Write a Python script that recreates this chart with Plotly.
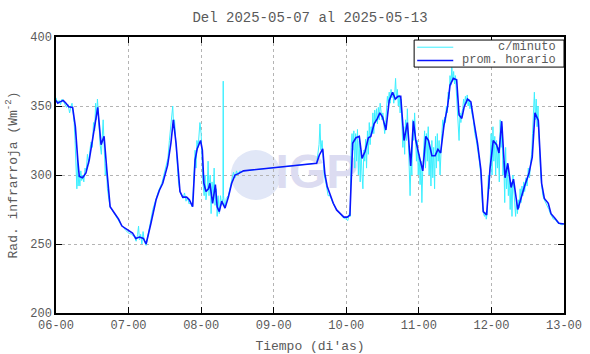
import pandas as pd
import plotly.graph_objects as go

# ---------------- data (hours since 2025-05-06 00:00, W m-2) ----------------
hourly_hours = [0, 0.6, 1.3, 2.4, 3.3, 4.2, 5.5, 6.4, 7.2, 7.7, 8.8, 9.9, 11, 11.9, 12.7, 13.8,
                14.9, 15.9, 16.8, 17.9, 19.3, 20.7, 21.8, 23.7, 25.3, 26.4, 27.6, 28.9, 29.8,
                31.4, 33.1, 34.2, 35.3, 36.9, 38, 38.8, 39.7, 41, 41.9, 43.2, 44.1, 45.2, 46,
                46.7, 47.8, 48.4, 48.9, 49.6, 50.4, 50.9, 51.8, 52.7, 53.3, 54, 54.8, 55.9, 57,
                58.1, 59.2, 60.3, 62, 86.2, 87.1, 88.2, 88.9, 89.7, 90.6, 91.7, 92.8, 94.1,
                95.2, 96.3, 97.2, 98.1, 99.2, 100.3, 101.2, 102.2, 103.3, 104.1, 105.2, 106.3,
                107.1, 108, 109.1, 110.2, 111.3, 112.2, 113.1, 114, 115.1, 116.2, 117.3, 118.2,
                119, 120.2, 121.3, 122.3, 123.2, 124.3, 125.4, 126.3, 127.2, 128.3, 129.5,
                130.3, 131.4, 132.5, 133.3, 134.2, 135, 136.1, 137.2, 138.3, 139.4, 140.5,
                141.3, 142.4, 143.5, 144.6, 145.7, 146.5, 147.4, 148.5, 149.4, 150.5, 151.3,
                152.7, 153.8, 155.1, 156.4, 157.5, 158.4, 159.5, 160.6, 161.5, 162.8, 163.7,
                165, 166.3, 168]
hourly_values = [354, 352, 353, 354, 352, 349.5, 349, 335, 311, 299, 298, 301.5, 311, 323, 336,
                 349, 322, 328, 304, 277, 272.5, 268, 263, 260.5, 258, 254, 255, 254, 250, 265,
                 282, 289, 294, 307, 323, 340, 323, 288, 284, 284, 282, 277, 311, 319, 325, 318,
                 294, 288, 290, 294, 279.5, 293, 277, 273.5, 281, 276, 284, 294, 300, 301, 303,
                 308.5, 314.5, 319, 301, 291.6, 285.5, 279.5, 274.7, 272, 269.5, 269.5, 271,
                 323, 327, 328, 312, 317, 327, 328, 337, 341, 345, 342, 332.6, 354, 360, 355,
                 357, 357, 325, 338, 306.5, 339, 325, 313, 303, 328, 325, 314, 314, 318.6, 316,
                 336, 349.5, 365, 370, 369, 343.5, 341, 349.5, 355, 353, 337.5, 323, 304,
                 273.5, 271, 304, 325, 322, 316, 339, 298, 308.5, 291, 297, 275, 284, 293, 301,
                 313, 345, 339.5, 294, 283, 279.5, 272, 268.6, 265, 264.5]

minute_hours = [0, 0.5, 1, 1.5, 2, 2.5, 3, 3.5, 4, 4.5, 5, 5.3, 5.6, 6, 6.3, 6.6, 6.9, 7.1, 7.3,
                7.6, 7.9, 8.2, 8.5, 8.8, 9.2, 9.6, 10, 10.4, 10.8, 11.2, 11.6, 12, 12.4, 12.8,
                13.1, 13.4, 13.7, 14, 14.3, 14.6, 15, 15.3, 15.6, 15.9, 16.3, 16.6, 17, 17.5,
                18, 18.5, 19, 19.5, 20, 20.5, 21, 21.5, 22, 22.5, 23, 23.5, 24, 25, 26, 26.5,
                27, 27.3, 27.6, 28, 28.4, 28.8, 29.2, 29.8, 30.5, 31, 32, 33, 34, 35, 36, 36.5,
                37, 37.5, 38, 38.3, 38.6, 38.9, 39.2, 39.6, 40, 40.5, 41, 41.5, 42, 42.5, 43,
                43.5, 44, 44.5, 45, 45.3, 45.6, 46, 46.3, 46.6, 47, 47.3, 47.6, 48, 48.3, 48.6,
                49, 49.3, 49.6, 50, 50.3, 50.6, 51, 51.3, 51.6, 52, 52.3, 52.6, 53, 53.3, 53.6,
                54, 54.4, 54.8, 55.2, 55.3, 55.4, 55.8, 56.3, 57, 58, 58.7, 59.2, 59.7, 60.2,
                60.8, 61.5, 62, 86.2, 86.5, 87, 87.3, 87.6, 88, 88.3, 88.7, 89.2, 89.7, 90,
                90.6, 91.7, 92.8, 94, 95, 96, 96.5, 97, 97.3, 97.6, 97.9, 98.2, 98.5, 98.8,
                99.1, 99.4, 99.7, 100, 100.3, 100.6, 100.9, 101.2, 101.5, 101.8, 102.1, 102.4,
                102.7, 103, 103.3, 103.6, 103.9, 104.2, 104.5, 104.8, 105.1, 105.4, 105.7, 106,
                106.3, 106.6, 106.9, 107.2, 107.5, 107.8, 108.1, 108.4, 108.7, 109, 109.3,
                109.6, 109.9, 110.2, 110.5, 110.8, 111.1, 111.4, 111.7, 112, 112.3, 112.6,
                112.9, 113.2, 113.5, 113.8, 114.1, 114.4, 114.7, 115, 115.3, 115.6, 115.9,
                116.2, 116.5, 116.8, 117.1, 117.4, 117.7, 118, 118.3, 118.6, 118.9, 119.2,
                119.5, 119.8, 120.1, 120.4, 120.7, 121, 121.3, 121.6, 121.9, 122.2, 122.5,
                122.8, 123.1, 123.4, 123.7, 124, 124.3, 124.6, 124.9, 125.2, 125.5, 125.8,
                126.1, 126.4, 126.7, 127, 127.3, 127.6, 127.9, 128.2, 128.5, 128.8, 129.1,
                129.4, 129.7, 130, 130.3, 130.6, 130.9, 131.2, 131.5, 131.8, 132.1, 132.4,
                132.7, 133, 133.3, 133.6, 133.9, 134.2, 134.5, 134.8, 135.1, 135.4, 135.7, 136,
                136.3, 136.6, 136.9, 137.2, 137.5, 138, 138.5, 139, 139.5, 140, 140.5, 140.8,
                141.1, 141.4, 141.7, 142, 142.3, 142.6, 143, 143.3, 143.6, 143.9, 144.2, 144.5,
                144.8, 145.1, 145.4, 145.7, 146, 146.3, 146.6, 146.9, 147.2, 147.5, 147.8,
                148.1, 148.4, 148.7, 149, 149.3, 149.6, 149.9, 150.2, 150.5, 150.8, 151.1,
                151.4, 151.7, 152, 152.3, 152.6, 152.9, 153.2, 153.5, 153.8, 154.1, 154.4,
                154.7, 155, 155.4, 155.8, 156.2, 156.6, 157, 157.3, 157.6, 157.9, 158.2, 158.5,
                158.8, 159.1, 159.4, 159.7, 160, 160.3, 160.6, 161, 161.5, 162, 162.5, 163,
                163.5, 164, 164.5, 165, 165.5, 166, 166.5, 167, 167.5, 168]
minute_values = [356, 352, 354, 351, 355, 353, 351, 349, 351, 345, 350, 352, 346, 338, 325, 300,
                 290, 316, 292, 300, 292, 303, 296, 300, 295, 305, 303, 315, 308, 318, 324, 320,
                 338, 332, 352, 340, 355, 345, 330, 322, 315, 330, 340, 322, 300, 308, 290, 282,
                 276, 275, 273, 272, 270, 268, 266, 264, 263, 261, 260, 259, 258, 257, 255, 252,
                 257, 263, 253, 257, 250, 259, 252, 249, 258, 264, 275, 282, 289, 294, 303, 308,
                 312, 325, 336, 345, 350, 336, 340, 325, 312, 295, 288, 285, 283, 287, 281, 284,
                 279, 280, 277, 285, 300, 318, 305, 325, 320, 335, 338, 330, 310, 295, 285, 300,
                 282, 290, 310, 285, 300, 272, 295, 285, 305, 278, 290, 270, 285, 272, 285, 278,
                 283, 368, 285, 276, 283, 285, 294, 302, 298, 303, 300, 303, 302, 303, 308.5,
                 315, 322, 337, 318, 325, 316, 300, 295, 290, 285, 285, 279, 275, 272, 269, 268,
                 267, 272, 270, 320, 330, 318, 332, 305, 330, 310, 333, 300, 325, 295, 318, 300,
                 290, 318, 310, 326, 305, 332, 315, 338, 322, 335, 330, 345, 330, 347, 338, 348,
                 337, 349, 340, 352, 346, 340, 345, 335, 330, 338, 348, 357, 352, 360, 352, 362,
                 356, 360, 352, 358, 370, 355, 362, 350, 358, 345, 355, 330, 320, 335, 315, 340,
                 325, 348, 330, 300, 285, 310, 300, 340, 325, 345, 320, 310, 325, 300, 315, 293,
                 310, 280, 305, 320, 332, 305, 330, 310, 335, 300, 320, 292, 325, 298, 320, 290,
                 328, 305, 330, 310, 325, 300, 320, 330, 340, 335, 342, 338, 350, 345, 360, 355,
                 372, 365, 378, 368, 375, 366, 372, 360, 350, 340, 325, 345, 338, 345, 348, 355,
                 350, 357, 352, 358, 350, 355, 348, 352, 345, 340, 330, 325, 318, 310, 300, 285,
                 275, 272, 270, 273, 268, 272, 300, 290, 312, 330, 300, 335, 310, 328, 300, 325,
                 305, 320, 295, 340, 320, 335, 300, 310, 280, 320, 290, 305, 285, 300, 275, 295,
                 270, 300, 290, 280, 270, 283, 272, 282, 276, 290, 280, 292, 285, 295, 288, 298,
                 292, 305, 298, 310, 315, 330, 345, 360, 340, 355, 335, 350, 330, 310, 300, 293,
                 285, 282, 280, 278, 275, 272, 270, 268, 268, 266, 265, 265, 264, 264, 265]

x_ticks_labels = ["06-00", "07-00", "08-00", "09-00", "10-00", "11-00", "12-00", "13-00"]
y_ticks = [200, 250, 300, 350, 400]
series_names = ["c/minuto", "prom. horario"]
series_colors = ["#3cf0ff", "#0a14ff"]

base = pd.Timestamp("2025-05-06 00:00")
hourly_x = base + pd.to_timedelta(hourly_hours, unit="h")
minute_x = base + pd.to_timedelta(minute_hours, unit="h")
tick_x = [base + pd.Timedelta(days=i) for i in range(len(x_ticks_labels))]

FONT = "Liberation Mono, Courier New, monospace"
TXT = "#5a5a5a"
WM_TEXT = "#dcdcf1"
WM_GLOBE = "#e1e7f7"

fig = go.Figure()

# watermark text (drawn first so the data lines lie over it)
fig.add_trace(go.Scatter(
    x=[base + pd.Timedelta(hours=86.3)], y=[299.6], mode="text", text=["<b>IGP</b>"],
    textfont=dict(family="Liberation Sans, Arial", size=48, color=WM_TEXT),
    showlegend=False, hoverinfo="skip"))

fig.add_trace(go.Scatter(
    x=minute_x, y=minute_values, mode="lines", name=series_names[0],
    line=dict(color=series_colors[0], width=1), showlegend=False))
fig.add_trace(go.Scatter(
    x=hourly_x, y=hourly_values, mode="lines", name=series_names[1],
    line=dict(color=series_colors[1], width=1.6), showlegend=False))

# watermark globe
fig.add_shape(type="circle", xref="x", yref="y", layer="below",
              x0=base + pd.Timedelta(hours=57.8), x1=base + pd.Timedelta(hours=74.4),
              y0=281.9, y1=318.1, fillcolor=WM_GLOBE, line=dict(width=0))

# legend box (drawn manually to match the compact original)
fig.add_shape(type="rect", xref="paper", yref="paper", x0=0.705, x1=1.0, y0=0.891, y1=0.989,
              fillcolor="white", line=dict(color="black", width=1), layer="above")
leg_y = [0.963, 0.915]
for name, col, yy in zip(series_names, series_colors, leg_y):
    fig.add_shape(type="line", xref="paper", yref="paper", x0=0.711, x1=0.782, y0=yy, y1=yy,
                  line=dict(color=col, width=1.5 if col == series_colors[1] else 1),
                  layer="above")
    fig.add_annotation(x=0.988, y=yy, xref="paper", yref="paper", text=name,
                       xanchor="right", yanchor="middle", showarrow=False,
                       font=dict(family=FONT, size=12, color=TXT))

axis_common = dict(
    showline=True, linecolor="black", linewidth=1.5, mirror="ticks",
    ticks="inside", ticklen=6, tickwidth=1.2, tickcolor="black",
    showgrid=True, gridcolor="#b4b4b4", griddash="dot", gridwidth=1,
    zeroline=False, automargin=False, tickfont=dict(family=FONT, size=12, color=TXT),
)

fig.update_layout(
    width=590, height=354,
    margin=dict(l=56, r=26, t=37, b=41),
    paper_bgcolor="white", plot_bgcolor="white",
    title=dict(text="Del 2025-05-07 al 2025-05-13", x=0.5, xref="paper",
               y=1 - 17 / 354, yref="container", yanchor="middle",
               font=dict(family=FONT, size=14, color=TXT)),
    xaxis=dict(axis_common, type="date", range=[tick_x[0], tick_x[-1]],
               tickvals=tick_x, ticktext=x_ticks_labels,
               title=dict(text="Tiempo (di'as)", standoff=12,
                          font=dict(family=FONT, size=13, color=TXT))),
    yaxis=dict(axis_common, range=[200, 400], tickvals=y_ticks,
               title=dict(text="Rad. infrarroja (Wm<sup>-2</sup>)", standoff=10,
                          font=dict(family=FONT, size=13, color=TXT))),
    showlegend=False,
)

fig.write_html("out.html")
